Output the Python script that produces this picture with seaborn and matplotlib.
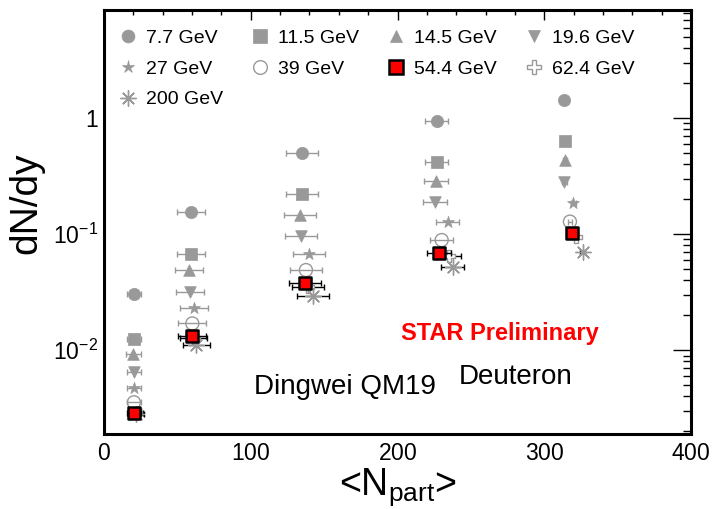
import matplotlib
matplotlib.use('Agg')
import matplotlib.pyplot as plt
import seaborn as sns
import pandas as pd
from matplotlib.lines import Line2D
from matplotlib.ticker import FixedLocator, FixedFormatter, LogLocator, MultipleLocator, NullFormatter

# collision energies (legend order, ROOT style row-wise)
energies = ['7.7 GeV', '11.5 GeV', '14.5 GeV', '19.6 GeV', '27 GeV',
            '39 GeV', '54.4 GeV', '62.4 GeV', '200 GeV']

# <Npart> per centrality bin
npart_7p7 = [20.4, 59.1, 135.1, 226.7, 313.7]
npart_11p5 = [20.4, 59.1, 135.1, 226.7, 314.0]
npart_14p5 = [20.0, 57.7, 133.6, 226.2, 314.0]
npart_19p6 = [20.4, 58.4, 134.0, 225.6, 313.7]
npart_27 = [20.4, 61.5, 139.9, 234.2, 319.8]
npart_39 = [20.4, 60.2, 137.6, 230.1, 317.5]
npart_54p4 = [20.4, 59.7, 137.0, 228.3, 318.7]
npart_62p4 = [21.5, 61.0, 139.0, 235.3, 321.6]
npart_200 = [22.0, 63.0, 142.6, 237.6, 326.2]

# deuteron dN/dy
dndy_7p7 = [0.0304, 0.154, 0.497, 0.948, 1.43]
dndy_11p5 = [0.0125, 0.0668, 0.220, 0.415, 0.637]
dndy_14p5 = [0.0093, 0.049, 0.146, 0.286, 0.435]
dndy_19p6 = [0.0065, 0.0319, 0.096, 0.190, 0.282]
dndy_27 = [0.0047, 0.0229, 0.0672, 0.127, 0.184]
dndy_39 = [0.00356, 0.0170, 0.049, 0.0888, 0.128]
dndy_54p4 = [0.0029, 0.0133, 0.0376, 0.0682, 0.1026]
dndy_62p4 = [0.0029, 0.0128, 0.035, 0.065, 0.095]
dndy_200 = [0.0028, 0.0110, 0.0294, 0.0522, 0.0704]

# uncertainty on <Npart>
npart_err = [5, 9.5, 11, 8, 1.5]

x_ticks = [0, 100, 200, 300, 400]
y_ticks = [0.01, 0.1, 1]
y_tick_labels = [r'$10^{-2}$', r'$10^{-1}$', '1']

npart = [npart_7p7, npart_11p5, npart_14p5, npart_19p6, npart_27,
         npart_39, npart_54p4, npart_62p4, npart_200]
dndy = [dndy_7p7, dndy_11p5, dndy_14p5, dndy_19p6, dndy_27,
        dndy_39, dndy_54p4, dndy_62p4, dndy_200]

gray = '#999999'
# marker, size(pt^2), face, edge, edge width, errorbar colour
styles = {
    '7.7 GeV': ('o', 78, gray, gray, 0.5, gray),
    '11.5 GeV': ('s', 80, gray, gray, 0.5, gray),
    '14.5 GeV': ('^', 70, gray, gray, 0.5, gray),
    '19.6 GeV': ('v', 70, gray, gray, 0.5, gray),
    '27 GeV': ('*', 80, gray, gray, 0.5, gray),
    '39 GeV': ('o', 88, 'none', gray, 1.0, gray),
    '54.4 GeV': ('s', 86, '#ff0000', 'black', 1.8, 'black'),
    '62.4 GeV': ('P', 80, 'white', gray, 1.0, 'black'),
    '200 GeV': ((8, 2, 0), 120, gray, gray, 1.0, 'black'),
}
draw_order = ['7.7 GeV', '11.5 GeV', '14.5 GeV', '19.6 GeV', '27 GeV',
              '39 GeV', '62.4 GeV', '200 GeV', '54.4 GeV']

sns.set_style('white')
plt.rcParams['font.family'] = ['Liberation Sans', 'DejaVu Sans']
plt.rcParams['text.color'] = 'black'
plt.rcParams['axes.labelcolor'] = 'black'
plt.rcParams['mathtext.fontset'] = 'custom'
plt.rcParams['mathtext.rm'] = 'Liberation Sans'
plt.rcParams['mathtext.it'] = 'Liberation Sans:italic'
plt.rcParams['mathtext.bf'] = 'Liberation Sans:bold'

fig = plt.figure(figsize=(7.14, 5.09), dpi=100)
ax = fig.add_axes([104 / 714, 1 - 434 / 509, 587 / 714, 424 / 509])

for z, name in enumerate(draw_order):
    i = energies.index(name)
    mk, s, fc, ec, lw, errc = styles[name]
    df = pd.DataFrame({'npart': npart[i], 'dndy': dndy[i]})
    ax.errorbar(df['npart'], df['dndy'], xerr=npart_err, fmt='none',
                ecolor=errc, elinewidth=1.0, capsize=2, capthick=1.0, zorder=2 + 2 * z)
    sns.scatterplot(data=df, x='npart', y='dndy', marker=mk, s=s, color=fc,
                    edgecolor=ec, linewidth=lw, ax=ax, legend=False, zorder=3 + 2 * z)

ax.set_yscale('log')
ax.set_xlim(0, 400)
ax.set_ylim(1.9e-3, 8.5)

# mathtext labels keep the tick text boxes tight to the digits
ax.xaxis.set_major_locator(FixedLocator(x_ticks))
ax.xaxis.set_major_formatter(FixedFormatter([r'$\mathregular{%d}$' % t for t in x_ticks]))
ax.xaxis.set_minor_locator(MultipleLocator(20))
ax.yaxis.set_major_locator(FixedLocator(y_ticks))
ax.yaxis.set_major_formatter(FixedFormatter(y_tick_labels))
ax.yaxis.set_minor_locator(LogLocator(base=10, subs=range(2, 10)))
ax.yaxis.set_minor_formatter(NullFormatter())

ax.tick_params(which='both', direction='in', top=True, right=True, width=1.0,
               labelsize=16.5, colors='black')
ax.tick_params(axis='x', which='major', length=7.5, pad=6)
ax.tick_params(axis='x', which='minor', length=3.5)
ax.tick_params(axis='y', which='major', length=13, pad=4)
ax.tick_params(axis='y', which='minor', length=6)
for sp in ax.spines.values():
    sp.set_linewidth(2.2)
    sp.set_color('black')

ax.set_xlabel(r'<N$_{\mathrm{part}}$>', fontsize=27)
ax.set_ylabel('dN/dy', fontsize=28)
ax.xaxis.set_label_coords(0.5, -0.076)
ax.yaxis.set_label_coords(-0.102, 0.544)

ax.text(269.5, 0.014, 'STAR Preliminary', color='#ff0000', fontsize=17,
        fontweight='bold', ha='center', va='center')
ax.text(164, 0.0048, 'Dingwei QM19', fontsize=20, ha='center', va='center')
ax.text(280.5, 0.00585, 'Deuteron', fontsize=20, ha='center', va='center')

handles = []
for name in energies:
    mk, s, fc, ec, lw, errc = styles[name]
    ms = (s ** 0.5) * 1.05
    handles.append(Line2D([], [], linestyle='none', marker=mk, markersize=ms,
                          markerfacecolor=fc, markeredgecolor=ec, markeredgewidth=lw))
# matplotlib fills legend columns first; reorder so rows read like the original
order = [0, 4, 8, 1, 5, 2, 6, 3, 7]
ax.legend([handles[k] for k in order], [energies[k] for k in order], ncol=4,
          loc='upper left', bbox_to_anchor=(0.0244, 0.955), frameon=False,
          fontsize=14, handlelength=1.0, handletextpad=0.43, columnspacing=1.4,
          labelspacing=0.68, borderpad=0, borderaxespad=0)

fig.savefig('out.png', dpi=100)
